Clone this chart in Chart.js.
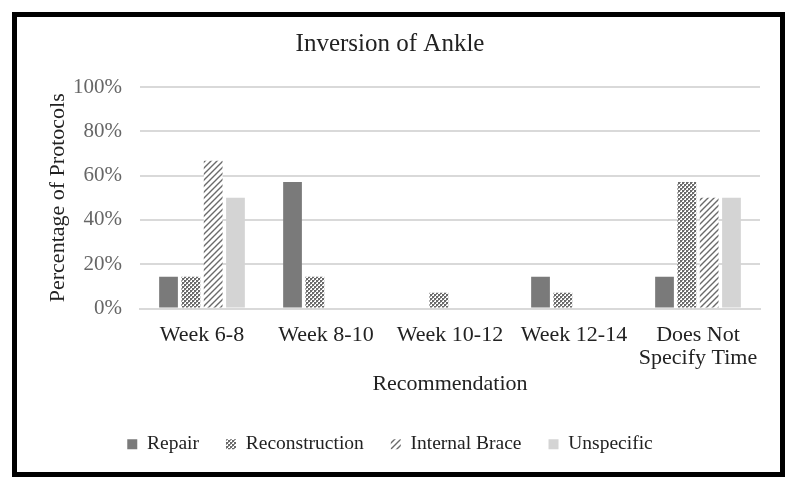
<!DOCTYPE html>
<html><head><meta charset="utf-8">
<script src="https://cdn.jsdelivr.net/npm/chart.js@4/dist/chart.umd.min.js"></script>
<style>html,body{margin:0;padding:0;background:#fff;}#wrap{width:798px;height:490px;position:relative;}</style>
</head><body><div id="wrap"><canvas id="c" width="798" height="490"></canvas></div>
<script>
const categories = [["Week 6-8"], ["Week 8-10"], ["Week 10-12"], ["Week 12-14"], ["Does Not", "Specify Time"]];
const repair = [14.3, 57.1, 0, 14.3, 14.3];
const reconstruction = [14.3, 14.3, 7.1, 7.1, 57.1];
const internalBrace = [66.7, 0, 0, 0, 50];
const unspecific = [50, 0, 0, 0, 50];
const seriesNames = ["Repair", "Reconstruction", "Internal Brace", "Unspecific"];
const yTicks = [0, 20, 40, 60, 80, 100];

function makePattern(kind){
  const p = document.createElement('canvas');
  const ctx = p.getContext('2d');
  if (kind === 'check'){
    p.width = 4; p.height = 4;
    ctx.fillStyle = '#ffffff'; ctx.fillRect(0,0,4,4);
    ctx.fillStyle = '#6a6a6a';
    ctx.fillRect(0,0,2,2); ctx.fillRect(2,2,2,2);
    ctx.fillStyle = '#a0a0a0';
    ctx.fillRect(2,0,1,1); ctx.fillRect(0,2,1,1);
  } else if (kind === 'diag'){
    p.width = 6; p.height = 6;
    ctx.fillStyle = '#ffffff'; ctx.fillRect(0,0,6,6);
    ctx.strokeStyle = '#6a6a6a'; ctx.lineWidth = 1.4;
    ctx.beginPath();
    ctx.moveTo(-1,7); ctx.lineTo(7,-1);
    ctx.moveTo(-4,4); ctx.lineTo(4,-4);
    ctx.moveTo(2,10); ctx.lineTo(10,2);
    ctx.stroke();
  }
  return document.getElementById('c').getContext('2d').createPattern(p, 'repeat');
}

const frame = {
  id: 'frame',
  beforeDraw(chart){
    const ctx = chart.ctx;
    ctx.save();
    ctx.fillStyle = '#fff'; ctx.fillRect(0,0,chart.width,chart.height);
    ctx.strokeStyle = '#000'; ctx.lineWidth = 5;
    ctx.strokeRect(14.5, 14.5, 768, 460);
    ctx.restore();
  }
};

const fills = ['#7a7a7a', makePattern('check'), makePattern('diag'), '#d4d4d4'];
const dataArrays = [repair, reconstruction, internalBrace, unspecific];

new Chart(document.getElementById('c'), {
  type: 'bar',
  data: {
    labels: categories,
    datasets: seriesNames.map((n,i)=>({
      label: n, data: dataArrays[i], backgroundColor: fills[i], borderWidth: 0,
      categoryPercentage: 0.72, barPercentage: 0.84
    }))
  },
  options: {
    responsive: false, animation: false, devicePixelRatio: 1,
    layout: { padding: { left: 20, right: 38, top: 20, bottom: 26 } },
    plugins: {
      title: { display: true, text: 'Inversion of Ankle', color: '#222',
        font: { family: 'Liberation Serif', size: 25, weight: 'normal' }, padding: { top: 9, bottom: 28 } },
      legend: { position: 'bottom', labels: { boxWidth: 10, boxHeight: 10, color: '#222',
        font: { family: 'Liberation Serif', size: 19.5 }, padding: 27 } },
      tooltip: { enabled: false }
    },
    scales: {
      x: {
        afterFit(axis){ axis.height = 99; },
        grid: { display: false, drawTicks: false },
        border: { color: '#d9d9d9', width: 2 },
        ticks: { color: '#222', font: { family: 'Liberation Serif', size: 22, lineHeight: 1.05 }, padding: 15, maxRotation: 0 },
        title: { display: true, text: 'Recommendation', color: '#222',
          font: { family: 'Liberation Serif', size: 22 }, padding: { top: 0, bottom: 10 } }
      },
      y: {
        min: 0, max: 100,
        afterFit(axis){ axis.width = 120; },
        afterBuildTicks(axis){ axis.ticks = yTicks.map(v=>({value:v})); },
        grid: { color: '#d9d9d9', lineWidth: 2, drawTicks: false },
        border: { display: false },
        ticks: { color: '#666', font: { family: 'Liberation Serif', size: 21 }, padding: 18,
          callback: v => v + '%' },
        title: { display: true, text: 'Percentage of Protocols', color: '#222',
          font: { family: 'Liberation Serif', size: 22 }, padding: { top: 25, bottom: 0 } }
      }
    }
  },
  plugins: [frame]
});
</script></body></html>
